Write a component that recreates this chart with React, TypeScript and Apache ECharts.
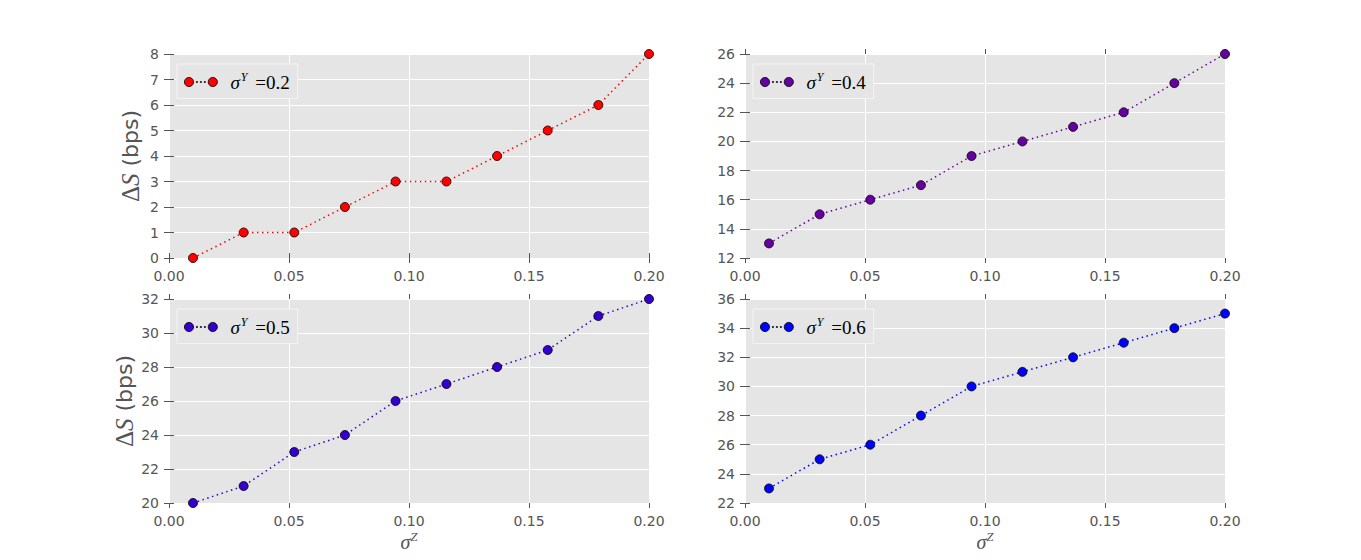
import React, { useEffect, useRef } from "react";
import * as echarts from "echarts";

const xValues = [0.01, 0.0311, 0.0522, 0.0733, 0.0944, 0.1156, 0.1367, 0.1578, 0.1789, 0.2];
const sigmaY = ["0.2", "0.4", "0.5", "0.6"];
const seriesTL = [0, 1, 1, 2, 3, 3, 4, 5, 6, 8];
const seriesTR = [13, 15, 16, 17, 19, 20, 21, 22, 24, 26];
const seriesBL = [20, 21, 23, 24, 26, 27, 28, 29, 31, 32];
const seriesBR = [23, 25, 26, 28, 30, 31, 32, 33, 34, 35];
const colors = ["#ff0000", "#6600a0", "#3300d0", "#0000ff"];
const yRanges = [
  [0, 8, 1],
  [12, 26, 2],
  [20, 32, 2],
  [22, 36, 2],
];
const xTickLabels = ["0.00", "0.05", "0.10", "0.15", "0.20"];

const allSeries = [seriesTL, seriesTR, seriesBL, seriesBR];

const grids = [
  { left: 169, top: 54, width: 480, height: 204 },
  { left: 745, top: 54, width: 480, height: 204 },
  { left: 169, top: 299, width: 480, height: 204 },
  { left: 745, top: 299, width: 480, height: 204 },
];

const ICON =
  "path://M0.5,5a4.4,4.4 0 1,0 8.8,0a4.4,4.4 0 1,0 -8.8,0Z" +
  "M23.3,5a4.4,4.4 0 1,0 8.8,0a4.4,4.4 0 1,0 -8.8,0Z" +
  "M12,4.5h1v1h-1Z" +
  "M15.8,4.5h1v1h-1Z" +
  "M19.6,4.5h1v1h-1Z";

const tickColor = "#555";
const labelFont = "DejaVu Sans";

export default function App() {
  const ref = useRef<HTMLDivElement>(null);
  useEffect(() => {
    if (!ref.current) return;
    const chart = echarts.init(ref.current, null, { renderer: "svg" });
    const xAxis: any[] = [];
    const yAxis: any[] = [];
    const series: any[] = [];
    const legend: any[] = [];
    grids.forEach((g, i) => {
      const bottomRow = i >= 2;
      const leftCol = i % 2 === 0;
      xAxis.push({
        type: "value",
        gridIndex: i,
        min: 0,
        max: 0.2,
        interval: 0.05,
        position: "bottom",
        axisLine: { show: false },
        axisTick: { show: true, length: 5, lineStyle: { color: tickColor, width: 1 } },
        axisLabel: {
          color: "#555",
          fontSize: 14,
          fontFamily: labelFont,
          margin: 11,
          formatter: (v: number) => xTickLabels[Math.round(v / 0.05)] ?? v.toFixed(2),
        },
        splitLine: { show: true, lineStyle: { color: "#ffffff", width: 1 } },
        name: bottomRow ? "{s|σ}{sup|Z}" : "",
        nameLocation: "middle",
        nameGap: 27,
        nameTextStyle: {
          rich: {
            s: { fontFamily: "Liberation Serif", fontStyle: "italic", fontSize: 20, color: "#555" },
            sup: { fontFamily: "Liberation Serif", fontStyle: "italic", fontSize: 13, color: "#555", padding: [0, 0, 10, 0] },
          },
        },
      });
      xAxis.push({
        type: "value",
        gridIndex: i,
        min: 0,
        max: 0.2,
        interval: 0.05,
        position: "top",
        axisLine: { show: false },
        axisTick: { show: true, length: 5, lineStyle: { color: tickColor, width: 1 } },
        axisLabel: { show: false },
        splitLine: { show: false },
      });
      const [mn, mx, iv] = yRanges[i];
      yAxis.push({
        type: "value",
        gridIndex: i,
        min: mn,
        max: mx,
        interval: iv,
        position: "left",
        axisLine: { show: false },
        axisTick: { show: true, length: 5, lineStyle: { color: tickColor, width: 1 } },
        axisLabel: { color: "#555", fontSize: 14, fontFamily: labelFont, margin: 10 },
        splitLine: { show: true, lineStyle: { color: "#ffffff", width: 1 } },
        name: leftCol ? "{d|Δ}{s|S}{b| (bps)}" : "",
        nameLocation: "middle",
        nameRotate: 90,
        nameGap: 26,
        nameTextStyle: {
          rich: {
            d: { fontFamily: "Liberation Serif", fontSize: 25, color: "#555" },
            s: { fontFamily: "Liberation Serif", fontStyle: "italic", fontSize: 25, color: "#555" },
            b: { fontFamily: labelFont, fontSize: 22, color: "#555" },
          },
        },
      });
      yAxis.push({
        type: "value",
        gridIndex: i,
        min: mn,
        max: mx,
        interval: iv,
        position: "right",
        axisLine: { show: false },
        axisTick: { show: true, length: 5, lineStyle: { color: tickColor, width: 1 } },
        axisLabel: { show: false },
        splitLine: { show: false },
      });
      const name = "σY=" + sigmaY[i];
      series.push({
        type: "line",
        name,
        xAxisIndex: i * 2,
        yAxisIndex: i * 2,
        data: xValues.map((x, k) => [x, allSeries[i][k]]),
        symbol: "circle",
        symbolSize: 9,
        color: colors[i],
        itemStyle: { color: colors[i], borderColor: "#000", borderWidth: 0.8 },
        lineStyle: { color: colors[i], width: 1.5, type: [1.5, 3.5] },
        clip: true,
      });
      legend.push({
        data: [name],
        left: g.left + 8,
        top: g.top + 10,
        orient: "vertical",
        padding: [7, 8, 7, 7],
        backgroundColor: "#e5e5e5",
        borderColor: "#f4f4f4",
        borderWidth: 1,
        borderRadius: 0,
        icon: ICON,
        itemWidth: 33,
        itemHeight: 10,
        itemStyle: { borderWidth: 0.8, borderColor: "#000" },
        formatter: () => "{s|σ}{sup|Y}{n| =" + sigmaY[i] + "}",
        textStyle: {
          padding: [0, 0, 0, 8],
          rich: {
            s: { fontFamily: "Liberation Serif", fontStyle: "italic", fontSize: 19, color: "#000" },
            sup: { fontFamily: "Liberation Serif", fontStyle: "italic", fontSize: 12, color: "#000", padding: [0, 3, 10, 1] },
            n: { fontFamily: "Liberation Serif", fontSize: 19, color: "#000" },
          },
        },
      });
    });
    chart.setOption({
      animation: false,
      backgroundColor: "#ffffff",
      grid: grids.map((g) => ({
        ...g,
        show: true,
        backgroundColor: "#e5e5e5",
        borderWidth: 0,
        containLabel: false,
      })),
      xAxis,
      yAxis,
      series,
      legend,
    });
    return () => chart.dispose();
  }, []);
  return (
    <div
      ref={ref}
      style={{ position: "absolute", left: 0, top: 0, width: 1361, height: 560 }}
    />
  );
}
